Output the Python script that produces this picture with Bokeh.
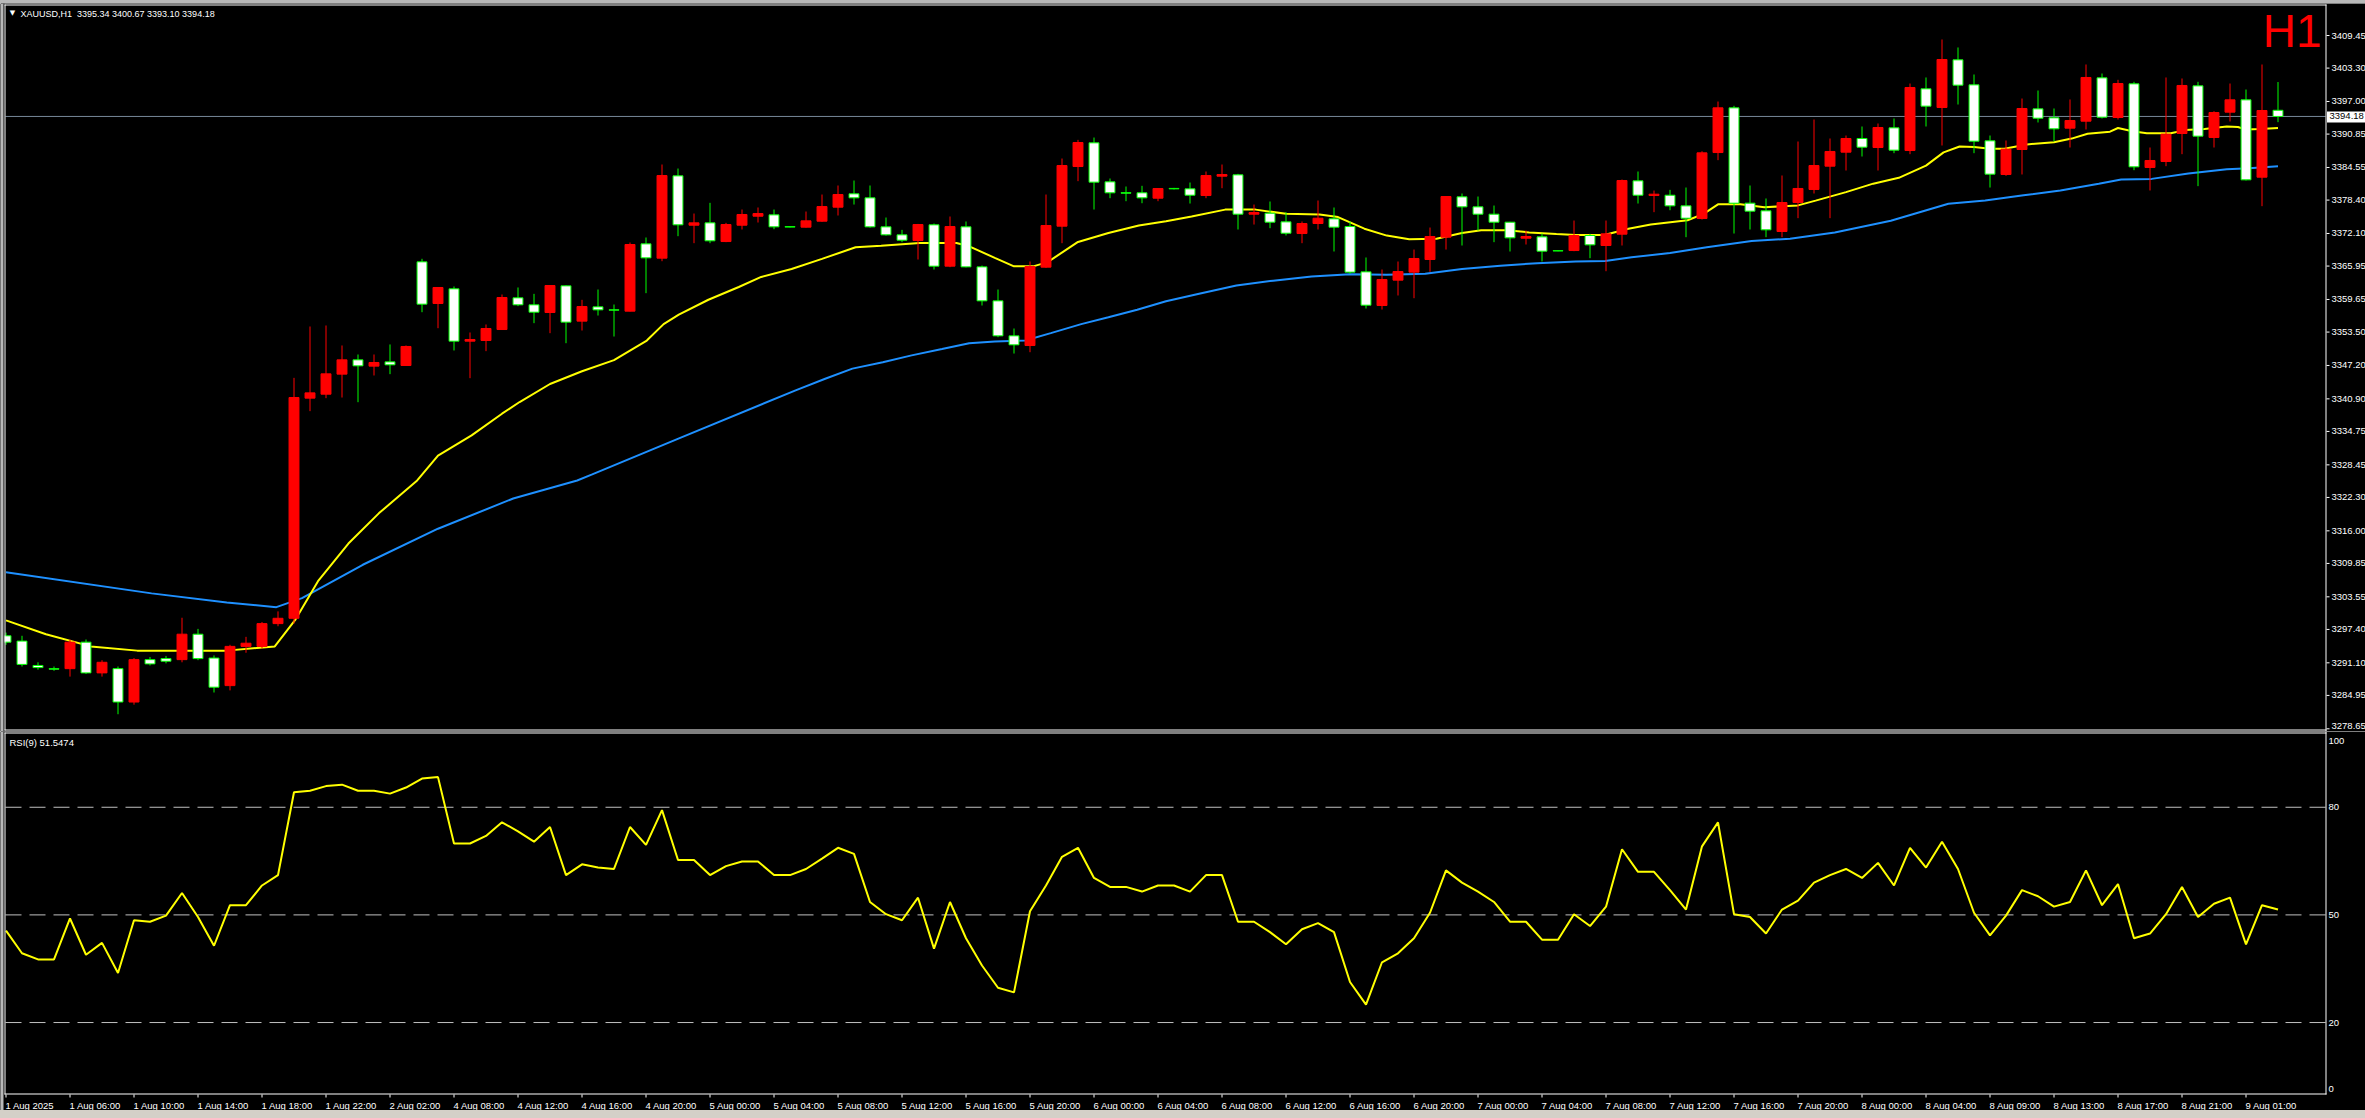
from bokeh.plotting import figure
from bokeh.models import Range1d, Label, Div, ColumnDataSource
from bokeh.layouts import column
from bokeh.embed import file_html
from bokeh.resources import INLINE
from bokeh.core.properties import value

# ---------------- data ----------------
opens = [3296.2, 3295.2, 3290.6, 3290.0, 3290.0, 3295.0, 3289.2, 3290.0, 3283.7, 3291.7,
         3291.9, 3291.7, 3296.5, 3292.0, 3286.8, 3294.2, 3294.2, 3298.5, 3299.5, 3341.03,
         3341.78, 3345.56, 3348.26, 3347.07, 3347.88, 3347.19, 3366.75, 3358.89, 3361.66, 3351.78,
         3351.91, 3353.98, 3359.96, 3358.64, 3357.19, 3362.22, 3355.56, 3358.26, 3357.70, 3357.44,
         3370.14, 3367.44, 3382.97, 3373.66, 3374.10, 3370.58, 3373.66, 3375.36, 3375.61, 3373.40,
         3373.29, 3374.42, 3377.06, 3379.58, 3378.82, 3373.35, 3371.84, 3370.77, 3373.73, 3365.93,
         3373.35, 3365.80, 3359.39, 3352.79, 3350.96, 3365.74, 3373.48, 3384.73, 3389.20, 3381.84,
         3379.80, 3379.77, 3378.76, 3380.60, 3380.52, 3379.26, 3382.91, 3383.16, 3375.74, 3375.93,
         3374.29, 3372.09, 3373.98, 3374.86, 3373.41, 3364.86, 3358.51, 3363.29, 3364.80, 3367.19,
         3371.40, 3379.01, 3377.12, 3375.74, 3374.23, 3371.21, 3371.46, 3368.85, 3368.88, 3371.72,
         3369.83, 3371.97, 3382.03, 3379.26, 3379.32, 3377.31, 3374.92, 3387.37, 3395.80, 3377.82,
         3376.37, 3372.47, 3377.94, 3380.40, 3384.80, 3387.44, 3390.02, 3388.32, 3392.03, 3387.75,
         3399.39, 3395.87, 3404.86, 3400.14, 3389.58, 3383.23, 3387.94, 3395.61, 3393.92, 3391.97,
         3393.29, 3401.46, 3393.98, 3400.33, 3384.55, 3385.68, 3390.96, 3399.95, 3390.21, 3394.99,
         3397.31, 3382.72, 3395.34]
highs = [3296.8, 3296.2, 3291.2, 3290.4, 3295.5, 3295.5, 3291.6, 3290.4, 3292.0, 3292.2,
         3292.4, 3299.6, 3297.5, 3292.5, 3294.5, 3296.0, 3298.8, 3300.8, 3344.86, 3354.55,
         3354.74, 3350.97, 3349.27, 3349.27, 3351.16, 3350.97, 3367.32, 3361.91, 3362.10, 3353.42,
         3354.93, 3360.59, 3361.91, 3360.71, 3362.30, 3362.30, 3359.58, 3361.53, 3358.70, 3370.39,
         3371.34, 3385.11, 3384.35, 3375.86, 3377.88, 3374.10, 3376.62, 3377.00, 3376.62, 3373.45,
         3376.24, 3379.45, 3381.15, 3382.09, 3381.15, 3375.11, 3372.78, 3373.90, 3373.98, 3375.30,
         3374.36, 3366.05, 3361.53, 3354.17, 3366.81, 3379.45, 3386.24, 3389.76, 3390.20, 3382.47,
         3380.96, 3381.09, 3380.60, 3380.70, 3381.71, 3383.79, 3385.11, 3383.35, 3377.56, 3378.13,
         3376.12, 3374.36, 3378.32, 3377.00, 3374.36, 3367.57, 3365.30, 3366.81, 3369.07, 3373.22,
         3379.10, 3379.64, 3379.07, 3377.37, 3374.30, 3372.66, 3372.09, 3368.90, 3374.54, 3372.03,
         3374.54, 3382.28, 3383.79, 3380.20, 3380.33, 3380.77, 3387.62, 3396.99, 3396.18, 3381.15,
         3378.70, 3383.04, 3389.45, 3393.60, 3390.02, 3390.58, 3392.28, 3392.85, 3393.79, 3400.39,
         3401.53, 3408.70, 3407.19, 3402.09, 3390.58, 3389.64, 3397.56, 3399.07, 3395.68, 3397.38,
         3403.98, 3402.28, 3401.09, 3400.71, 3388.32, 3401.53, 3401.34, 3400.71, 3395.17, 3400.39,
         3399.26, 3403.98, 3400.67]
lows = [3294.5, 3290.4, 3289.8, 3289.6, 3288.5, 3289.0, 3288.5, 3281.4, 3283.2, 3290.6,
        3291.0, 3291.2, 3291.6, 3285.5, 3285.9, 3293.0, 3293.8, 3298.0, 3298.5, 3338.58,
        3341.03, 3341.15, 3340.27, 3345.31, 3345.56, 3347.19, 3357.25, 3354.23, 3350.02, 3344.80,
        3349.90, 3353.90, 3358.39, 3355.18, 3353.29, 3351.40, 3353.79, 3356.62, 3352.66, 3357.40,
        3360.84, 3366.87, 3371.59, 3370.27, 3370.27, 3370.46, 3372.85, 3374.17, 3372.91, 3373.25,
        3373.20, 3374.30, 3375.49, 3377.56, 3373.20, 3371.70, 3370.46, 3367.19, 3365.30, 3365.74,
        3365.70, 3358.51, 3352.53, 3349.45, 3349.70, 3365.61, 3370.27, 3381.97, 3376.62, 3378.76,
        3378.19, 3377.81, 3378.19, 3380.40, 3377.75, 3378.76, 3380.64, 3372.85, 3373.79, 3373.10,
        3371.72, 3370.27, 3372.85, 3368.70, 3364.48, 3357.94, 3357.75, 3360.40, 3359.89, 3364.86,
        3369.07, 3369.83, 3372.66, 3370.46, 3368.70, 3370.02, 3366.81, 3368.75, 3368.76, 3367.44,
        3364.98, 3369.83, 3377.75, 3376.12, 3376.49, 3371.40, 3374.73, 3385.93, 3372.09, 3372.85,
        3371.40, 3371.40, 3374.99, 3379.64, 3374.99, 3383.98, 3386.62, 3383.98, 3387.25, 3387.06,
        3392.28, 3388.70, 3396.43, 3387.25, 3380.77, 3382.97, 3383.23, 3393.04, 3389.45, 3388.32,
        3391.72, 3393.79, 3393.60, 3384.04, 3380.21, 3384.80, 3387.06, 3381.03, 3388.32, 3393.23,
        3382.10, 3377.25, 3393.10]
closes = [3295.0, 3290.8, 3290.2, 3289.9, 3295.0, 3289.2, 3291.2, 3283.7, 3291.7, 3290.9,
          3291.4, 3296.5, 3291.9, 3286.5, 3294.2, 3294.8, 3298.5, 3299.5, 3341.15, 3342.03,
          3345.62, 3348.26, 3347.13, 3347.76, 3347.32, 3350.78, 3358.76, 3361.91, 3351.78, 3352.10,
          3354.17, 3360.02, 3358.64, 3357.25, 3362.28, 3355.37, 3358.32, 3357.69, 3357.63, 3370.02,
          3367.50, 3383.03, 3373.73, 3374.10, 3370.71, 3373.79, 3375.68, 3375.86, 3373.35, 3373.30,
          3374.48, 3377.18, 3379.45, 3378.82, 3373.35, 3371.84, 3370.83, 3373.79, 3365.93, 3373.41,
          3365.80, 3359.39, 3352.79, 3351.09, 3365.87, 3373.60, 3384.92, 3389.26, 3381.78, 3379.77,
          3379.70, 3378.82, 3380.58, 3380.52, 3379.32, 3383.03, 3383.22, 3375.74, 3376.05, 3374.23,
          3372.15, 3373.98, 3374.98, 3373.29, 3364.80, 3358.57, 3363.41, 3364.92, 3367.38, 3371.53,
          3379.07, 3377.12, 3375.74, 3374.23, 3371.27, 3371.53, 3368.76, 3368.80, 3371.72, 3369.95,
          3372.03, 3382.09, 3379.32, 3379.51, 3377.31, 3374.98, 3387.31, 3395.80, 3377.81, 3376.31,
          3372.79, 3377.94, 3380.59, 3384.92, 3387.57, 3390.02, 3388.38, 3392.09, 3387.82, 3399.64,
          3396.12, 3404.92, 3400.08, 3389.51, 3383.29, 3388.01, 3395.68, 3393.85, 3391.84, 3393.41,
          3401.53, 3394.04, 3400.39, 3384.67, 3385.87, 3390.84, 3400.02, 3390.46, 3394.92, 3397.31,
          3382.22, 3395.30, 3394.18]

rsi_values = [45.6, 39.3, 37.6, 37.6, 49.0, 38.9, 42.2, 33.8, 48.5, 48.1,
              49.8, 56.1, 49.4, 41.4, 52.7, 52.7, 58.2, 61.1, 84.2, 84.6,
              85.9, 86.3, 84.6, 84.6, 83.8, 85.5, 88.0, 88.4, 69.9, 69.9,
              72.0, 75.8, 73.3, 70.4, 74.5, 61.1, 64.1, 63.2, 62.8, 74.5,
              69.5, 79.2, 65.3, 65.3, 61.1, 63.6, 64.9, 64.9, 61.1, 61.1,
              62.8, 65.7, 68.7, 67.0, 53.6, 50.2, 48.5, 54.8, 40.6, 53.6,
              43.5, 35.9, 29.7, 28.4, 51.0, 58.2, 66.2, 68.7, 60.3, 57.8,
              57.8, 56.5, 58.2, 58.2, 56.5, 61.1, 61.1, 48.1, 48.1, 45.2,
              41.8, 46.0, 47.7, 45.2, 31.3, 25.0, 36.8, 39.3, 43.5, 50.6,
              62.4, 59.0, 56.5, 53.6, 48.1, 48.1, 43.1, 43.1, 50.2, 46.9,
              52.3, 68.3, 62.0, 62.0, 56.9, 51.5, 69.1, 75.8, 50.2, 49.4,
              44.8, 51.5, 54.0, 59.0, 61.1, 62.8, 60.3, 64.5, 58.2, 68.7,
              63.2, 70.4, 62.8, 50.6, 44.3, 49.8, 56.9, 55.2, 52.3, 53.6,
              62.4, 52.7, 58.6, 43.5, 44.8, 50.2, 57.8, 49.4, 53.1, 54.8,
              41.8, 52.7, 51.5]

# moving averages (bar position, price)
ma_fast_x = [0, 2.5, 5.3, 8.2, 11, 13.8, 16.8, 18.1, 19.5, 21.4, 23.3, 25.7, 27.0, 29.1, 31.0,
             32.1, 34.0, 36.0, 38.0, 40.05, 41.1, 42.05, 43.9, 45.8, 47.2, 49.1, 51.0, 53.1,
             54.7, 57.1, 59.4, 60.1, 61.8, 63.0, 64.2, 65.1, 67.0, 68.9, 70.8, 72.5, 74.1,
             76.2, 78.1, 80.0, 82.1, 83.25, 84.9, 86.3, 87.7, 89.4, 91.0, 92.2, 93.8, 95.2,
             96.9, 98.1, 99.9, 101.4, 102.8, 105.1, 106.1, 107.0, 108.4, 109.9, 112.0, 113.1,
             115.0, 116.7, 118.3, 120.0, 121.1, 122.1, 123.0, 124.0, 124.9, 126.3, 128.0,
             129.1, 130.1, 131.5, 132.0, 132.9, 133.8, 135.3, 136.2, 137.4, 138.8, 139.5,
             140.0, 140.9, 142.0]
ma_fast_y = [3299.1, 3296.5, 3294.2, 3293.4, 3293.4, 3293.4, 3294.2, 3299.3, 3306.5, 3313.6,
             3319.3, 3325.5, 3330.2, 3334.0, 3338.1, 3340.3, 3343.7, 3346.1, 3348.2, 3351.9,
             3355.0, 3356.8, 3359.6, 3362.0, 3363.9, 3365.4, 3367.3, 3369.5, 3369.8, 3370.3,
             3370.3, 3369.8, 3367.5, 3365.9, 3365.9, 3366.7, 3370.5, 3372.2, 3373.6, 3374.4,
             3375.3, 3376.6, 3376.6, 3375.8, 3375.7, 3375.2, 3373.0, 3371.7, 3371.0, 3371.1,
             3372.2, 3372.7, 3372.7, 3372.3, 3372.0, 3371.8, 3371.8, 3373.0, 3373.8, 3374.6,
             3375.8, 3377.6, 3377.6, 3377.05, 3377.4, 3378.3, 3379.9, 3381.5, 3382.6, 3384.9,
             3387.4, 3388.5, 3388.4, 3388.1, 3388.1, 3388.9, 3389.3, 3390.0, 3390.9, 3391.3,
             3392.0, 3391.4, 3391.0, 3391.0, 3391.6, 3391.8, 3392.3, 3392.2, 3391.7, 3391.8,
             3392.0]
ma_slow_x = [0, 9.1, 13.8, 16.9, 18.5, 22.3, 27.0, 31.7, 35.7, 36.6, 42.1, 49.35, 51.2, 52.9,
             54.8, 56.6, 58.5, 60.2, 61.8, 63.7, 65.3, 67.2, 68.9, 70.7, 72.5, 74.5, 76.9,
             79.2, 81.6, 84.0, 86.3, 88.7, 91.0, 93.4, 95.7, 98.1, 99.95, 101.6, 104.0, 106.3,
             109.1, 111.5, 114.3, 117.8, 121.4, 123.7, 126.1, 128.4, 130.8, 132.2, 134.1,
             136.4, 138.8, 140.2, 142.0]
ma_slow_y = [3308.2, 3304.2, 3302.5, 3301.6, 3303.3, 3309.6, 3316.4, 3322.1, 3325.5, 3326.6,
             3333.5, 3342.5, 3344.7, 3346.6, 3347.8, 3349.1, 3350.3, 3351.4, 3351.7, 3351.9,
             3353.3, 3355.0, 3356.3, 3357.7, 3359.3, 3360.7, 3362.3, 3363.2, 3364.0, 3364.4,
             3364.3, 3364.5, 3365.4, 3366.0, 3366.5, 3366.8, 3366.9, 3367.6, 3368.4, 3369.5,
             3370.7, 3371.1, 3372.3, 3374.5, 3377.7, 3378.3, 3379.3, 3380.2, 3381.5, 3382.3,
             3382.4, 3383.4, 3384.2, 3384.4, 3384.8]

time_labels = ["1 Aug 2025", "1 Aug 06:00", "1 Aug 10:00", "1 Aug 14:00", "1 Aug 18:00",
               "1 Aug 22:00", "2 Aug 02:00", "4 Aug 08:00", "4 Aug 12:00", "4 Aug 16:00",
               "4 Aug 20:00", "5 Aug 00:00", "5 Aug 04:00", "5 Aug 08:00", "5 Aug 12:00",
               "5 Aug 16:00", "5 Aug 20:00", "6 Aug 00:00", "6 Aug 04:00", "6 Aug 08:00",
               "6 Aug 12:00", "6 Aug 16:00", "6 Aug 20:00", "7 Aug 00:00", "7 Aug 04:00",
               "7 Aug 08:00", "7 Aug 12:00", "7 Aug 16:00", "7 Aug 20:00", "8 Aug 00:00",
               "8 Aug 04:00", "8 Aug 09:00", "8 Aug 13:00", "8 Aug 17:00", "8 Aug 21:00",
               "9 Aug 01:00"]
time_tick_bars = [4 * i for i in range(len(time_labels))]
price_ticks = [3409.45, 3403.30, 3397.00, 3390.85, 3384.55, 3378.40, 3372.10, 3365.95,
               3359.65, 3353.50, 3347.20, 3340.90, 3334.75, 3328.45, 3322.30, 3316.00,
               3309.85, 3303.55, 3297.40, 3291.10, 3284.95, 3278.65]
rsi_levels = [20, 50, 80]
rsi_scale_labels = ["100", "80", "50", "20", "0"]
rsi_scale_values = [100, 80, 50, 20, 0]
last_price = 3394.18
title_text = "XAUUSD,H1\u00a0 3395.34 3400.67 3393.10 3394.18"
rsi_text = "RSI(9) 51.5474"

# ---------------- pixel geometry (page pixels -> data) ----------------
FONT = "Liberation Sans"
BULL = "#ff0000"
BEAR_EDGE = "#00ff00"
GRAY = "#b8b8b8"
W = 2365
PX = 16.0                       # pixels per bar
X0 = -1.5 / PX
PPP = 0.18866                   # price per pixel
def bx(xpix):                    # bar coordinate at page pixel column
    return X0 + (xpix - 4) / PX
def py(ypix):                    # price at page pixel row
    return 3409.45 - (ypix - 35) * PPP
def rv(ypix):                    # rsi value at page pixel row
    return (1093.8 - ypix) / 3.588

AXIS_X = 2325.5
XR = Range1d(bx(0), bx(W))

def bare_figure(height, y_range):
    f = figure(width=W, height=height, output_backend="svg", toolbar_location=None, tools="",
               x_range=XR, y_range=y_range, x_axis_location=None, y_axis_location=None,
               background_fill_color="black", border_fill_color="black",
               outline_line_color=None, min_border=0,
               min_border_left=0, min_border_right=0, min_border_top=0, min_border_bottom=0)
    f.xgrid.grid_line_color = None
    f.ygrid.grid_line_color = None
    return f

def text(f, x, y, t, color="white", size="9.5px", align="left", font=FONT):
    f.text(x=x, y=y, text=t, text_color=color, text_font=value(font),
           text_font_size=size, text_align=align, text_baseline="middle")

# ---------------- price pane: page rows 3..731 ----------------
p = bare_figure(728, Range1d(py(731), py(3)))

p.segment(x0=[bx(5)], y0=[last_price], x1=[bx(2325)], y1=[last_price],
          line_color="#778899", line_width=1)
p.line(ma_slow_x, ma_slow_y, line_color="#1e90ff", line_width=2)
p.line(ma_fast_x, ma_fast_y, line_color="#ffff00", line_width=2)

bars = list(range(len(opens)))
is_bull = [c > o for o, c in zip(opens, closes)]
src = ColumnDataSource(dict(
    x=bars, h=highs, l=lows,
    top=[max(o, c) for o, c in zip(opens, closes)],
    bottom=[min(o, c) for o, c in zip(opens, closes)],
    wick=[BULL if b else BEAR_EDGE for b in is_bull],
    fill=[BULL if b else "#ffffff" for b in is_bull],
    edge=[BULL if b else BEAR_EDGE for b in is_bull],
))
p.segment(x0="x", y0="h", x1="x", y1="l", line_color="wick", line_width=1, source=src)
p.vbar(x="x", width=0.62, top="top", bottom="bottom", fill_color="fill",
       line_color="edge", line_width=1, source=src)

# window edge and pane frame
p.quad(left=[bx(0)], right=[bx(4)], bottom=[py(731)], top=[py(3)], fill_color="black", line_color=None)
p.quad(left=[bx(0)], right=[bx(3)], bottom=[py(731)], top=[py(3)], fill_color=GRAY, line_color=None)
p.segment(x0=[bx(4.5), bx(4), bx(4), bx(AXIS_X)],
          y0=[py(4), py(4.5), py(729.5), py(4)],
          x1=[bx(4.5), bx(2326), bx(2326), bx(AXIS_X)],
          y1=[py(730), py(4.5), py(729.5), py(731)],
          line_color="white", line_width=1)

# price scale
p.segment(x0=[bx(2326)] * len(price_ticks), y0=price_ticks,
          x1=[bx(2329)] * len(price_ticks), y1=price_ticks, line_color="white", line_width=1)
price_label_y = price_ticks[:-1] + [py(725)]
text(p, [bx(2331)] * len(price_ticks), price_label_y, [f"{t:.2f}" for t in price_ticks])

# current price tag
p.quad(left=[bx(2326.5)], right=[bx(W)], bottom=[py(122)], top=[py(111)],
       fill_color="white", line_color=None)
text(p, [bx(2329)], [last_price], [f"{last_price:.2f}"], color="black")

# headers
text(p, [bx(12)], [py(12.5)], ["\u25bc"], size="7px", align="center", font="DejaVu Sans")
text(p, [bx(20)], [py(13)], [title_text], size="9px")
text(p, [bx(2321)], [py(30.5)], ["H1"], color="#ff0000", size="46px", align="right")

# ---------------- RSI pane: page rows 731..1110 ----------------
r = bare_figure(379, Range1d(rv(1110), rv(731)))

n_lv = len(rsi_levels)
r.segment(x0=[bx(5)] * n_lv, y0=rsi_levels, x1=[bx(2325)] * n_lv, y1=rsi_levels,
          line_color="#c0c0c0", line_width=1, line_dash="16 8")
r.line(bars, rsi_values, line_color="#ffff00", line_width=2)

r.quad(left=[bx(0)], right=[bx(4)], bottom=[rv(1110)], top=[rv(731)], fill_color="black", line_color=None)
r.quad(left=[bx(0)], right=[bx(3)], bottom=[rv(1110)], top=[rv(731)], fill_color=GRAY, line_color=None)
r.segment(x0=[bx(4), bx(4.5), bx(4), bx(AXIS_X)],
          y0=[rv(732.5), rv(732), rv(1093.5), rv(731)],
          x1=[bx(2326), bx(4.5), bx(2326), bx(AXIS_X)],
          y1=[rv(732.5), rv(1094), rv(1093.5), rv(1094)],
          line_color="white", line_width=1)

# time scale
n_t = len(time_tick_bars)
r.segment(x0=time_tick_bars, y0=[rv(1094)] * n_t, x1=time_tick_bars, y1=[rv(1097)] * n_t,
          line_color="white", line_width=1)
text(r, [b - 0.03 for b in time_tick_bars], [rv(1104.5)] * n_t, time_labels)

# RSI scale (top and bottom labels kept inside the pane, as in the terminal)
rsi_label_y = [rv(740.5)] + rsi_scale_values[1:-1] + [rv(1088)]
text(r, [bx(2328)] * len(rsi_scale_labels), rsi_label_y, rsi_scale_labels)

text(r, [bx(9)], [rv(742)], [rsi_text])

top_strip = Div(text="", width=W, height=3, margin=0, styles={"background-color": GRAY})
bottom_strip = Div(text="", width=W, height=8, margin=0, styles={"background-color": "#d4d0c8"})

layout = column(top_strip, p, r, bottom_strip, spacing=0)
open("out.html", "w").write(file_html(layout, INLINE))
